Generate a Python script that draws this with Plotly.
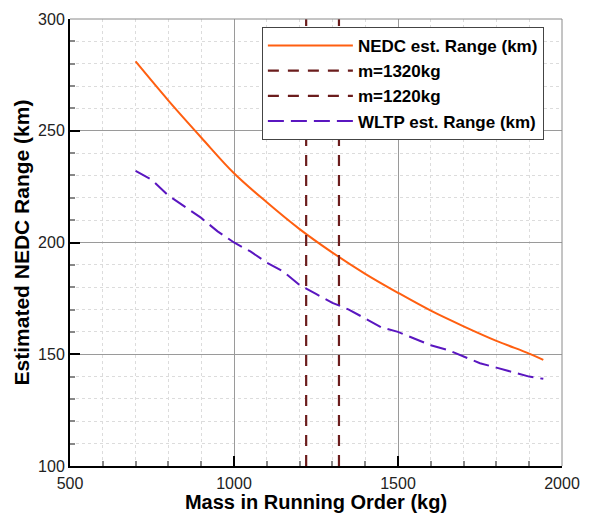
import plotly.graph_objects as go

mass = [700, 800, 900, 1000, 1100, 1200, 1300, 1400, 1500, 1600, 1700, 1800, 1900, 1943]
nedc = [281, 263.5, 247, 231, 218, 206, 195.5, 186, 177.5, 169.5, 162.5, 156, 150.3, 147.5]

mass_w = [700, 750, 800, 850, 900, 950, 1000, 1050, 1100, 1150, 1200, 1250, 1300, 1350,
          1400, 1450, 1500, 1550, 1600, 1650, 1700, 1750, 1800, 1850, 1900, 1943]
wltp = [232, 228, 221, 216, 211, 205, 200, 196, 191, 187, 181, 177, 173, 170,
        166, 162, 160, 157, 154, 152, 149, 146, 144, 142, 140, 139]

m_lines = [1320, 1220]
y_span = [100, 300]

orange = "#ff5f10"
maroon = "#6b1c1c"
purple = "#5a16c0"

fig = go.Figure()
fig.add_trace(go.Scatter(x=mass, y=nedc, mode="lines", name="NEDC est. Range (km)",
                         line=dict(color=orange, width=2), line_shape="spline"))
for m in m_lines:
    fig.add_trace(go.Scatter(x=[m, m], y=y_span, mode="lines", name=f"m={m}kg",
                             line=dict(color=maroon, width=2.2, dash="11px,9px")))
fig.add_trace(go.Scatter(x=mass_w, y=wltp, mode="lines", name="WLTP est. Range (km)",
                         line=dict(color=purple, width=2, dash="16px,7px")))

axis_common = dict(
    showline=True, linecolor="black", linewidth=2,
    ticks="inside", ticklen=10, tickwidth=2, tickcolor="black",
    showgrid=True, gridcolor="#9a9a9a", gridwidth=1,
    zeroline=False,
    tickfont=dict(family="Liberation Sans, Arial", size=16, color="#222"),
)

fig.update_xaxes(
    range=[500, 2000], dtick=500, tick0=500, ticklabelstandoff=2,
    minor=dict(dtick=100, ticks="inside", ticklen=5, tickcolor="#888",
               showgrid=True, gridcolor="#dcdcdc", griddash="dot", gridwidth=1),
    title=dict(text="<b>Mass in Running Order (kg)</b>", standoff=5,
               font=dict(family="Liberation Sans, Arial", size=20, color="black")),
    **axis_common,
)
fig.update_yaxes(
    range=[100, 300], dtick=50, tick0=100,
    minor=dict(dtick=10, ticks="inside", ticklen=5, tickcolor="#888",
               showgrid=True, gridcolor="#dcdcdc", griddash="dot", gridwidth=1),
    title=dict(text="<b>Estimated NEDC Range (km)</b>", standoff=3,
               font=dict(family="Liberation Sans, Arial", size=21, color="black")),
    **axis_common,
)

# grey top and right frame
fig.add_shape(type="line", xref="paper", yref="paper", x0=0, x1=1, y0=1, y1=1,
              line=dict(color="#8a8a8a", width=1))
fig.add_shape(type="line", xref="paper", yref="paper", x0=1, x1=1, y0=0, y1=1,
              line=dict(color="#8a8a8a", width=1))

fig.update_layout(
    width=584, height=505,
    margin=dict(l=62, r=30, t=11, b=47, autoexpand=False),
    plot_bgcolor="white", paper_bgcolor="white",
    showlegend=True,
    legend=dict(x=0.39, y=0.982, xanchor="left", yanchor="top",
                bgcolor="white", bordercolor="#444", borderwidth=1,
                itemwidth=85, tracegroupgap=0,
                font=dict(family="Liberation Sans, Arial", size=17, color="black")),
    font=dict(family="Liberation Sans, Arial"),
)
for t in fig.data:
    t.name = f"<b>{t.name}</b>"

fig.write_html("out.html")
